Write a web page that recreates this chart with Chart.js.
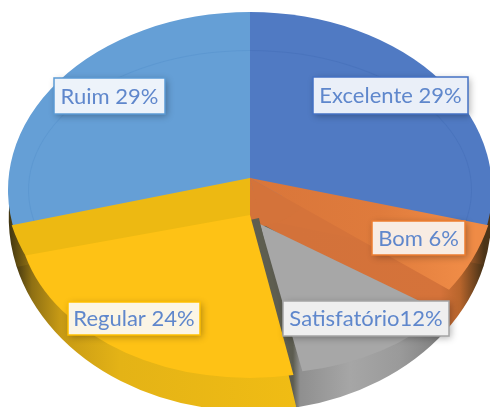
<!DOCTYPE html>
<html><head><meta charset="utf-8">
<style>html,body{margin:0;padding:0;background:#fff}canvas{display:block;filter:blur(0.5px)}</style>
<script src="https://cdn.jsdelivr.net/npm/chart.js@4"></script>
</head><body>
<canvas id="c" width="490" height="407"></canvas>
<script>
const categories = ['Excelente','Bom','Satisfatório','Regular','Ruim'];
const percentValues = [29,6,12,24,29];
const labelTexts = ['Excelente 29%','Bom 6%','Satisfatório12%','Regular 24%','Ruim 29%'];

// drawing style: each layer redraws chosen slices through the library's arcs, under a 3D-look transform
const H = (stops)=>({stops});
const layers = [
 {c:[250,218],r:[240,192],seal:true,fill:[
   H([[420,'#d5733a'],[466,'#b5622c'],[484,'#4c3418']]),
   H([[300,'#d3723a'],[440,'#d5733a'],[460,'#b8652c'],[482,'#4c3418']]),
   H([[293,'#5c5c50'],[300,'#8f8f8f'],[350,'#a6a6a6'],[400,'#9a9a9a'],[450,'#7a7a7a']]),
   H([[14,'#3d3210'],[32,'#8f7013'],[60,'#c79a15'],[120,'#e4b316'],[295,'#f0bc14']]),
   H([[8,'#3d3210'],[30,'#8f7013'],[250,'#e4b316']])]},
 {c:[250,190],r:[242,178],fill:['#507ac3',null,null,null,'#659fd6']},
 {c:[250,190],r:[222,140],fill:['#4a74bd',null,null,null,'#5d98d1']},
 {c:[250,190],r:[221,139],fill:['#507ac3',null,null,null,'#659fd6']},
 {c:[250,178],r:[64,49],seal:true,fill:[null,null,'#d4733a',H([[0,'rgba(212,115,58,0)'],[250,'rgba(212,115,58,0)'],[250,'#d4733a'],[490,'#d4733a']]),null]},
 {c:[250,178],r:[246,190],fill:[null,H([[250,'#d9763a'],[380,'#df7b3c'],[460,'#ef8b46']]),null,null,null]},
 {c:[250,178],r:[246,190],fill:[null,null,null,H([[0,'#edb912'],[250,'#edb912'],[250,'rgba(237,185,18,0)'],[490,'rgba(237,185,18,0)']]),null]},
 {c:[260,224],r:[226,150],fill:[null,null,'#a7a7a7',null,null]},
 {c:[259,218],r:[190,157],fill:[null,null,null,'#5e5e50',null]},
 {c:[250,215],r:[232,163],fill:[null,null,null,'#fec215',null]}
];
const labelBoxes = [
 {x:313,y:77,w:155,h:37,bg:'#eaeff8',bd:'#4472c4'},
 {x:372,y:221,w:93,h:34,bg:'#f8ece3',bd:'#ed7d31'},
 {x:283,y:301,w:166,h:35,bg:'#efefef',bd:'#a5a5a5'},
 {x:68,y:302,w:132,h:33,bg:'#fbf5e5',bd:'#ffc000'},
 {x:54,y:78,w:111,h:36,bg:'#edf3fa',bd:'#5b9bd5'}
];

const pie3d = {
 id:'pie3d',
 beforeDatasetDraw(chart,args){
  const ctx = chart.ctx, arcs = args.meta.data;
  layers.forEach(l=>{
   const R = arcs[0].outerRadius, X = arcs[0].x, Y = arcs[0].y;
   const sx = l.r[0]/R, sy = l.r[1]/R;
   ctx.save();
   ctx.translate(l.c[0],l.c[1]); ctx.scale(sx,sy); ctx.translate(-X,-Y);
   const toX = x=>X+(x-l.c[0])/sx;
   arcs.forEach((arc,i)=>{
    const f = l.fill[i]; if(!f) return;
    let bg = f;
    if(f.stops){
      const a=f.stops[0][0], b=f.stops[f.stops.length-1][0];
      bg = ctx.createLinearGradient(toX(a),0,toX(b),0);
      f.stops.forEach(s=>bg.addColorStop((s[0]-a)/(b-a),s[1]));
    }
    const o = arc.options;
    arc.options = Object.assign({},o,{backgroundColor:bg,borderColor:bg,borderWidth:l.seal?2:0});
    arc.draw(ctx);
    arc.options = o;
   });
   ctx.restore();
  });
  return false;
 },
 afterDraw(chart){
  const ctx = chart.ctx;
  labelBoxes.forEach((b,i)=>{
   ctx.save();
   ctx.shadowColor='rgba(0,0,0,0.3)';ctx.shadowBlur=7;ctx.shadowOffsetX=2;ctx.shadowOffsetY=2;
   ctx.fillStyle=b.bg;ctx.fillRect(b.x,b.y,b.w,b.h);
   ctx.restore();
   ctx.strokeStyle=b.bd;ctx.lineWidth=1.5;ctx.strokeRect(b.x,b.y,b.w,b.h);
   ctx.fillStyle='#5f87cc';ctx.font='22px Lato';ctx.textAlign='center';ctx.textBaseline='middle';
   ctx.fillText(labelTexts[i],b.x+b.w/2,b.y+b.h/2+0.5);
  });
 }
};

new Chart(document.getElementById('c'),{
 type:'pie',
 data:{labels:categories,datasets:[{data:percentValues,borderWidth:0}]},
 options:{responsive:false,animation:false,layout:{padding:0},
  plugins:{legend:{display:false},tooltip:{enabled:false}}},
 plugins:[pie3d]
});
</script>
</body></html>
